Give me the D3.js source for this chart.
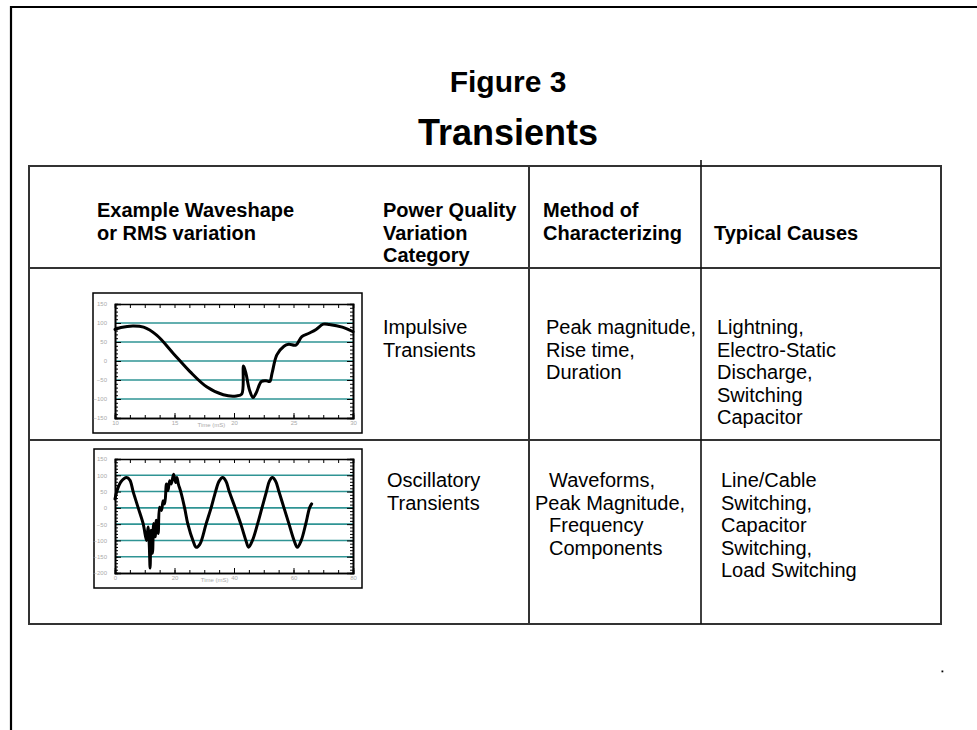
<!DOCTYPE html>
<html>
<head>
<meta charset="utf-8">
<script src="https://cdn.jsdelivr.net/npm/d3@7"></script>
<style>
  html, body { margin: 0; padding: 0; background: #fff; }
  svg { display: block; }
  text { font-family: "Liberation Sans", Arial, Helvetica, sans-serif; }
</style>
</head>
<body>
<svg id="c" width="977" height="730"></svg>
<script>
// ---------- DATA ----------
const titleLines = ["Figure 3", "Transients"];
const headers = [
  ["Example Waveshape", "or RMS variation"],
  ["Power Quality", "Variation", "Category"],
  ["Method of", "Characterizing"],
  ["", "Typical Causes"]
];
const categories = [["Impulsive", "Transients"], ["Oscillatory", "Transients"]];
const methods = [["Peak magnitude,", "Rise time,", "Duration"],
                 ["Waveforms,", "Peak Magnitude,", "Frequency", "Components"]];
const causes = [["Lightning,", "Electro-Static", "Discharge,", "Switching", "Capacitor"],
                ["Line/Cable", "Switching,", "Capacitor", "Switching,", "Load Switching"]];

// Impulsive transient waveform (time ms, value)
const impT = [10, 10.5, 11.5, 12.4, 13.5, 14.9, 16.3, 17.7, 19.1, 20.2, 20.65, 20.8, 21.0, 21.3, 21.6, 21.85, 22.3, 22.7, 23.0, 23.2, 23.6, 24.2, 24.6, 25.2, 25.7, 26.3, 26.9, 27.5, 28.0, 29.1, 30];
const impV = [83, 88, 92, 89, 68, 20, -28, -68, -89, -92, -87, -13, -32, -76, -96, -85, -54, -52, -54, -32, 16, 39, 44, 42, 64, 73, 83, 97, 96, 89, 77];
const impXTicks = [10, 15, 20, 25, 30];
const impYTicks = [150, 100, 50, 0, -50, -100, -150];
const impGrid = [100, 50, 0, -50, -100];

// Oscillatory transient waveform (time ms, value)
const oscT = [0, 0.6, 2, 3.9, 5, 6.1, 7.8, 9.5, 10.6,
  11.1, 11.5, 11.8, 12.1, 12.6, 13.0, 13.5, 13.9, 14.5, 15.0, 15.6, 16.2, 16.7, 17.3, 17.8, 18.4, 18.9, 19.7, 20.4, 20.8, 21.3,
  22.1, 23.4, 24.5, 26.2, 27.3, 28.5, 30.6, 32.3, 33.8, 35, 36.2, 37.3, 38.4, 40.4, 42.3, 44, 44.9, 46.2, 47.9, 49.4, 50.9, 51.9, 52.9, 54,
  55.1, 56.8, 58.5, 60.2, 61.3, 62.6, 64.1, 65.4, 66.1];
const oscV = [27, 50, 80, 93, 85, 50, 0, -50, -100,
  -59, -109, -185, -69, -139, -48, -89, -38, -79, 2, -8, 22, 12, 73, 53, 83, 73, 103, 78, 93, 73,
  50, 0, -50, -100, -121, -112, -50, 0, 50, 82, 93, 82, 50, 0, -50, -100, -121, -100, -50, 0, 50, 82, 93, 82,
  50, 0, -50, -100, -121, -100, -50, 0, 12];
const oscXTicks = [0, 20, 40, 60, 80];
const oscYTicks = [150, 100, 50, 0, -50, -100, -150, -200];
const oscGrid = [100, 50, 0, -50, -100, -150];

// ---------- DRAW ----------
const svg = d3.select("#c");
const FONT_HEAD = 20;
const FONT_BODY = 20;

// outer page border (open to right/bottom)
svg.append("path").attr("d", "M11,730 L11,7 L977,7")
  .attr("fill", "none").attr("stroke", "#000").attr("stroke-width", 2.2);

// titles
svg.append("text").attr("x", 508).attr("y", 92).attr("text-anchor", "middle")
  .attr("font-weight", "bold").attr("font-size", 30).text(titleLines[0]);
svg.append("text").attr("x", 508).attr("y", 145).attr("text-anchor", "middle")
  .attr("font-weight", "bold").attr("font-size", 36).text(titleLines[1]);

// table
const T = {x0: 29, x1: 941, y0: 166, yH: 268, yR: 440, y1: 624, c1: 529, c2: 701};
const tg = svg.append("g").attr("stroke", "#333").attr("stroke-width", 2).attr("fill", "none");
tg.append("rect").attr("x", T.x0).attr("y", T.y0).attr("width", T.x1 - T.x0).attr("height", T.y1 - T.y0);
tg.append("line").attr("x1", T.x0).attr("x2", T.x1).attr("y1", T.yH).attr("y2", T.yH);
tg.append("line").attr("x1", T.x0).attr("x2", T.x1).attr("y1", T.yR).attr("y2", T.yR);
tg.append("line").attr("x1", T.c1).attr("x2", T.c1).attr("y1", T.y0).attr("y2", T.y1);
tg.append("line").attr("x1", T.c2).attr("x2", T.c2).attr("y1", T.y0 - 6).attr("y2", T.y1).attr("stroke", "#111").attr("stroke-width", 1.6);

function block(x, y, lines, bold, xs) {
  lines.forEach((s, i) => {
    svg.append("text").attr("x", xs ? xs[i] : x).attr("y", y + i * 22.5)
      .attr("font-size", bold ? FONT_HEAD : FONT_BODY)
      .attr("font-weight", bold ? "bold" : "normal").attr("fill", "#000").text(s);
  });
}
// headers
block(97, 217, headers[0], true);
block(383, 217, headers[1], true);
block(543, 217, headers[2], true);
block(714, 217, headers[3], true);

// row 1
block(383, 334, categories[0], false);
block(546, 334, methods[0], false);
block(717, 334, causes[0], false);
// row 2
block(387, 487, categories[1], false);
block(549, 487, methods[1], false, [549, 535, 549, 549]);
block(721, 487, causes[1], false);

// small dot
svg.append("rect").attr("x", 941.5).attr("y", 670.5).attr("width", 1.8).attr("height", 1.8).attr("fill", "#000");

// ---------- mini charts ----------
function miniChart(opt) {
  const g = svg.append("g");
  g.append("rect").attr("x", opt.box[0]).attr("y", opt.box[1])
    .attr("width", opt.box[2] - opt.box[0]).attr("height", opt.box[3] - opt.box[1])
    .attr("fill", "#fff").attr("stroke", "#000").attr("stroke-width", 1.5);
  const p = opt.plot;
  const x = d3.scaleLinear().domain(opt.xDomain).range([p[0], p[2]]);
  const y = d3.scaleLinear().domain(opt.yDomain).range([p[3], p[1]]);

  // gridlines
  g.append("g").selectAll("line").data(opt.grid).join("line")
    .attr("x1", p[0]).attr("x2", p[2]).attr("y1", d => y(d)).attr("y2", d => y(d))
    .attr("stroke", "#2f9494").attr("stroke-width", 1.6);

  const style = sel => {
    sel.select(".domain").attr("stroke", "#000").attr("stroke-width", 1.6);
    sel.selectAll(".tick line").attr("stroke", "#000").attr("stroke-width", 1);
    sel.selectAll(".tick text").attr("fill", "#aaa").attr("font-size", 6)
      .attr("font-family", "Liberation Sans, Arial, sans-serif");
  };
  const yMinor = d3.range(opt.yDomain[0], opt.yDomain[1] + 0.01, 10);
  const xMinor = d3.range(0, 17).map(i => opt.xDomain[0] + i * (opt.xDomain[1] - opt.xDomain[0]) / 16);

  g.append("g").attr("transform", `translate(${p[0]},0)`)
    .call(d3.axisLeft(y).tickValues(yMinor).tickSize(-3).tickFormat("")).call(style);
  g.append("g").attr("transform", `translate(${p[0]},0)`)
    .call(d3.axisLeft(y).tickValues(opt.yTicks).tickSize(-6).tickPadding(8)).call(style);
  g.append("g").attr("transform", `translate(${p[2]},0)`)
    .call(d3.axisRight(y).tickValues(yMinor).tickSize(-3).tickFormat("")).call(style);
  g.append("g").attr("transform", `translate(${p[2]},0)`)
    .call(d3.axisRight(y).tickValues(opt.yTicks).tickSize(-6).tickFormat("")).call(style);
  g.append("g").attr("transform", `translate(0,${p[1]})`)
    .call(d3.axisTop(x).tickValues(xMinor).tickSize(-4).tickFormat("")).call(style);
  g.append("g").attr("transform", `translate(0,${p[3]})`)
    .call(d3.axisBottom(x).tickValues(xMinor).tickSize(-3).tickFormat("")).call(style);
  g.append("g").attr("transform", `translate(0,${p[3]})`)
    .call(d3.axisBottom(x).tickValues(opt.xTicks).tickSize(-5).tickPadding(3).tickFormat(d3.format("d"))).call(style);

  g.append("text").attr("x", x(opt.xLabelAt)).attr("y", p[3] + 9).attr("text-anchor", "middle")
    .attr("font-size", 6).attr("fill", "#aaa").text("Time (mS)");

  const data = opt.t.map((t, i) => [t, opt.v[i]]);
  g.append("path").datum(data)
    .attr("d", d3.line().x(d => x(d[0])).y(d => y(d[1])).curve(d3.curveCatmullRom.alpha(0.5)))
    .attr("fill", "none").attr("stroke", "#000").attr("stroke-width", 3)
    .attr("stroke-linejoin", "round").attr("stroke-linecap", "round");
}

miniChart({
  box: [93, 293, 362, 433], plot: [115, 304, 353, 418],
  xDomain: [10, 30], yDomain: [-150, 150],
  xTicks: impXTicks, yTicks: impYTicks, grid: impGrid,
  t: impT, v: impV, xLabelAt: 18.1
});
miniChart({
  box: [94, 449, 362, 588], plot: [115, 459, 353, 573],
  xDomain: [0, 80], yDomain: [-200, 150],
  xTicks: oscXTicks, yTicks: oscYTicks, grid: oscGrid,
  t: oscT, v: oscV, xLabelAt: 33.5
});
</script>
</body>
</html>
